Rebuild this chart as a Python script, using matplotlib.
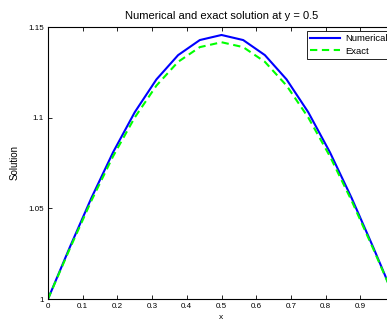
import matplotlib
matplotlib.use("Agg")
import matplotlib.pyplot as plt

# grid points along x (17 nodes, step 1/16)
x = [0, 0.0625, 0.125, 0.1875, 0.25, 0.3125, 0.375, 0.4375, 0.5,
     0.5625, 0.625, 0.6875, 0.75, 0.8125, 0.875, 0.9375, 1.0]

# values
numerical = [1.0, 1.0284, 1.0557, 1.0809, 1.1030, 1.1211, 1.1345, 1.1428, 1.1456,
             1.1428, 1.1345, 1.1211, 1.1030, 1.0809, 1.0557, 1.0284, 1.0]
exact = [1.0, 1.0276, 1.0542, 1.0787, 1.1001, 1.1177, 1.1308, 1.1389, 1.1416,
         1.1389, 1.1308, 1.1177, 1.1001, 1.0787, 1.0542, 1.0276, 1.0]

xticks = [0, 0.1, 0.2, 0.3, 0.4, 0.5, 0.6, 0.7, 0.8, 0.9]
xticklabels = ['0', '0.1', '0.2', '0.3', '0.4', '0.5', '0.6', '0.7', '0.8', '0.9']
yticks = [1, 1.05, 1.1, 1.15]
yticklabels = ['1', '1.05', '1.1', '1.15']

plt.rcParams['font.family'] = ['Liberation Sans', 'DejaVu Sans']

W, H = 387, 323
fig = plt.figure(figsize=(W / 100, H / 100), dpi=100)
# axes runs past the right edge of the image, like the reference
ax = fig.add_axes([48 / W, 24 / H, 347 / W, 272 / H])

ax.plot(x, numerical, color='#0000ff', lw=1.5, label='Numerical')
ax.plot(x, exact, color='#00ff00', lw=1.5, dashes=(3.5, 2.2), label='Exact')

ax.set_xlim(0, 1)
ax.set_ylim(1, 1.15)
ax.set_xticks(xticks)
ax.set_xticklabels(xticklabels)
ax.set_yticks(yticks)
ax.set_yticklabels(yticklabels)
ax.tick_params(direction='in', length=3, width=0.6, top=True, right=True,
               labelsize=5.8, pad=3)
for s in ax.spines.values():
    s.set_linewidth(0.8)

ax.set_title('Numerical and exact solution at y = 0.5', fontsize=8, pad=6)
ax.set_xlabel('x', fontsize=6, labelpad=3)
ax.set_ylabel('Solution', fontsize=7, labelpad=6)

leg = ax.legend(loc='upper left', bbox_to_anchor=(307 / W, 1 - 31 / H),
                bbox_transform=fig.transFigure, borderaxespad=0,
                fancybox=False, edgecolor='black', fontsize=6.8,
                handlelength=3.1, handletextpad=0.65, borderpad=0.35,
                labelspacing=0.35, framealpha=1)
leg.get_frame().set_linewidth(0.6)

fig.savefig('out.png', dpi=100)
